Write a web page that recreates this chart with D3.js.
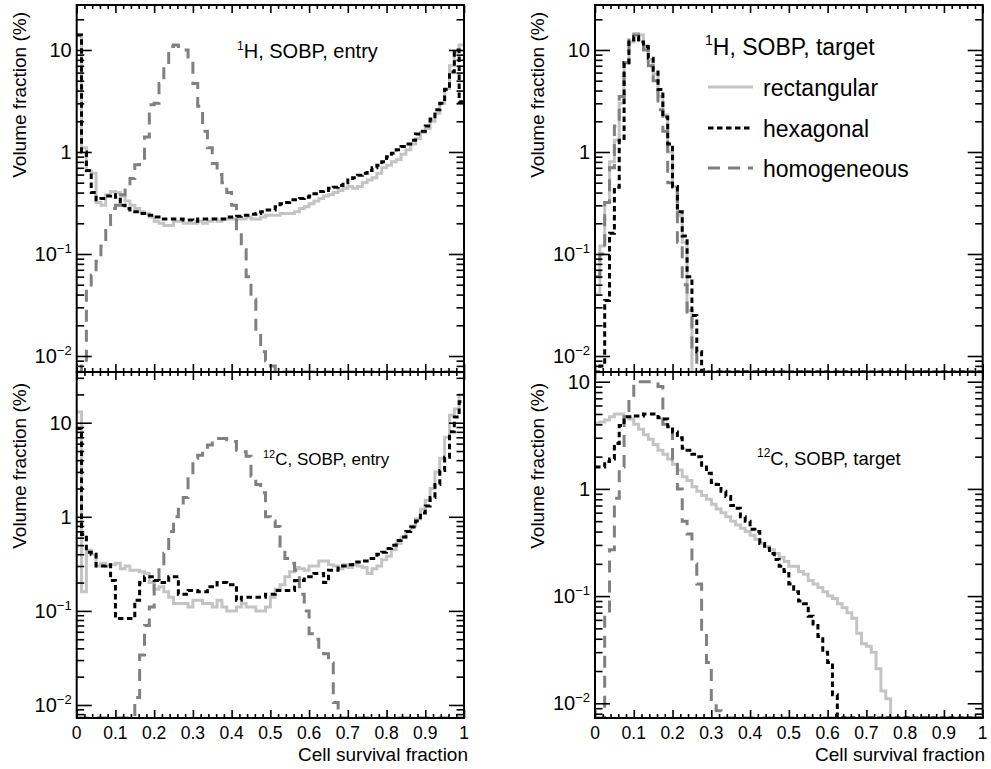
<!DOCTYPE html>
<html><head><meta charset="utf-8">
<script src="https://cdn.jsdelivr.net/npm/d3@7"></script>
<style>
body{margin:0;background:#fff}
svg{display:block}
text{font-family:"Liberation Sans",Arial,Helvetica,sans-serif;fill:#000}
</style>
</head><body>
<svg id="chart" width="991" height="769"></svg>
<script>
// ---------- DATA (80 bins of width 0.0125 over cell survival fraction 0..1) ----------
const binEdges = d3.range(81).map(i => i / 80);

const seriesNames = ["rectangular", "hexagonal", "homogeneous"];
const xTickLabels = ["0","0.1","0.2","0.3","0.4","0.5","0.6","0.7","0.8","0.9","1"];
const yMajorTicks = [0.01, 0.1, 1, 10];

// 1H, SOBP, entry
const hEntryRect = [14,1.1,0.65,0.62,0.32,0.30,0.38,0.41,0.40,0.37,0.33,0.30,0.28,0.26,0.25,0.23,0.21,0.20,0.19,0.19,
  0.21,0.21,0.20,0.20,0.20,0.21,0.20,0.21,0.22,0.21,0.22,0.22,0.22,0.22,0.22,0.23,0.22,0.22,0.23,0.24,
  0.24,0.24,0.25,0.25,0.25,0.26,0.28,0.29,0.31,0.33,0.35,0.37,0.38,0.40,0.42,0.44,0.46,0.44,0.46,0.50,
  0.53,0.56,0.62,0.70,0.74,0.80,0.84,0.95,1.05,1.2,1.35,1.55,1.7,2.0,2.4,3.0,4.2,7.0,9.5,11.2];
const hEntryHex = [14,1.0,0.66,0.40,0.34,0.35,0.37,0.38,0.36,0.30,0.28,0.26,0.26,0.25,0.24,0.24,0.23,0.22,0.22,0.22,
  0.22,0.22,0.215,0.215,0.21,0.22,0.22,0.22,0.22,0.22,0.22,0.23,0.23,0.235,0.24,0.24,0.245,0.25,0.26,0.27,
  0.27,0.29,0.31,0.32,0.34,0.34,0.35,0.36,0.37,0.39,0.41,0.42,0.44,0.45,0.47,0.50,0.53,0.56,0.59,0.62,
  0.66,0.70,0.74,0.80,0.90,0.97,1.05,1.13,1.2,1.3,1.5,1.6,1.8,2.1,2.6,3.0,4.1,6.1,10,3.1];
const hEntryHom = [0,0.008,0.045,0.062,0.085,0.12,0.17,0.28,0.30,0.38,0.46,0.55,0.75,0.82,1.4,2.9,3.0,4.7,7.0,10.8,
  11.2,10.8,10,7.7,4.7,2.8,1.6,1.1,0.77,0.6,0.5,0.4,0.3,0.16,0.11,0.06,0.036,0.017,0.011,0.009,
  0.008,0,0,0,0,0,0,0,0,0,0,0,0,0,0,0,0,0,0,0,
  0,0,0,0,0,0,0,0,0,0,0,0,0,0,0,0,0,0,0,0];

// 1H, SOBP, target
const hTargetRect = [0.04,0.12,0.32,0.8,1.3,3.0,7.5,12,14.5,14,11,8,5.8,3.5,2.3,1.0,0.46,0.24,0.13,0.028,
  0,0,0,0,0,0,0,0,0,0,0,0,0,0,0,0,0,0,0,0,
  0,0,0,0,0,0,0,0,0,0,0,0,0,0,0,0,0,0,0,0,
  0,0,0,0,0,0,0,0,0,0,0,0,0,0,0,0,0,0,0,0];
const hTargetHex = [0,0.008,0.035,0.16,0.45,1.3,7.5,12.5,13.5,12,10.8,8.3,6.1,4.1,2.2,1.2,0.46,0.26,0.15,0.06,
  0.025,0.011,0,0,0,0,0,0,0,0,0,0,0,0,0,0,0,0,0,0,
  0,0,0,0,0,0,0,0,0,0,0,0,0,0,0,0,0,0,0,0,
  0,0,0,0,0,0,0,0,0,0,0,0,0,0,0,0,0,0,0,0];
const hTargetHom = [0.06,0.1,0.32,0.7,1.8,3.5,7.5,13,14,12.5,10,7,5,2.6,1.6,0.5,0.45,0.13,0.05,0.025,
  0.011,0,0,0,0,0,0,0,0,0,0,0,0,0,0,0,0,0,0,0,
  0,0,0,0,0,0,0,0,0,0,0,0,0,0,0,0,0,0,0,0,
  0,0,0,0,0,0,0,0,0,0,0,0,0,0,0,0,0,0,0,0];

// 12C, SOBP, entry
const cEntryRect = [13,0.16,0.44,0.40,0.30,0.32,0.30,0.31,0.32,0.28,0.30,0.27,0.27,0.26,0.25,0.20,0.17,0.18,0.16,0.14,
  0.12,0.12,0.12,0.11,0.13,0.13,0.12,0.12,0.11,0.13,0.11,0.10,0.10,0.11,0.12,0.11,0.11,0.10,0.10,0.11,
  0.14,0.17,0.19,0.23,0.26,0.29,0.28,0.27,0.30,0.30,0.34,0.34,0.31,0.30,0.28,0.31,0.29,0.31,0.30,0.29,
  0.25,0.28,0.30,0.35,0.38,0.45,0.52,0.6,0.7,0.8,0.95,1.2,1.5,2.0,3.0,4.2,7,12,14,20];
const cEntryHex = [8.7,0.65,0.42,0.40,0.30,0.30,0.31,0.21,0.083,0.083,0.083,0.083,0.13,0.2,0.23,0.23,0.21,0.2,0.2,0.23,
  0.23,0.15,0.15,0.165,0.165,0.16,0.16,0.18,0.18,0.2,0.2,0.19,0.19,0.13,0.14,0.14,0.14,0.14,0.14,0.15,
  0.15,0.165,0.165,0.165,0.165,0.21,0.21,0.23,0.23,0.25,0.25,0.2,0.27,0.27,0.3,0.3,0.31,0.33,0.33,0.34,
  0.36,0.36,0.4,0.42,0.46,0.5,0.56,0.61,0.7,0.78,0.9,1.1,1.3,1.6,2.2,3.1,4.3,8,11.5,16.7];
const cEntryHom = [0,0,0,0,0,0,0,0,0,0,0,0,0.012,0.034,0.07,0.11,0.2,0.3,0.41,0.7,
  1.0,1.2,1.6,2.8,4.2,4.5,5.0,5.8,6.6,6.8,6.8,6.6,6.3,5.1,4.9,4.4,2.7,2.2,1.8,1.0,
  0.9,0.79,0.42,0.36,0.32,0.27,0.15,0.1,0.057,0.05,0.041,0.035,0.028,0.0106,0,0,0,0,0,0,
  0,0,0,0,0,0,0,0,0,0,0,0,0,0,0,0,0,0,0,0];

// 12C, SOBP, target
const cTargetRect = [4.1,4.2,4.4,4.7,5.0,5.0,4.7,4.5,4.0,3.6,3.2,2.9,2.6,2.3,2.1,1.9,1.7,1.5,1.3,1.2,
  1.05,0.95,0.87,0.8,0.72,0.65,0.6,0.55,0.5,0.46,0.43,0.4,0.37,0.34,0.31,0.29,0.27,0.25,0.23,0.21,
  0.19,0.19,0.17,0.16,0.14,0.13,0.12,0.11,0.10,0.095,0.085,0.078,0.07,0.062,0.045,0.036,0.034,0.03,0.021,0.013,
  0.011,0,0,0,0,0,0,0,0,0,0,0,0,0,0,0,0,0,0,0];
const cTargetHex = [1.6,1.6,1.8,1.9,2.65,3.9,4.7,4.7,4.8,4.8,5.0,5.0,5.0,4.6,4.5,3.8,3.4,3.0,2.4,2.3,
  2.1,2.0,1.6,1.4,1.15,1.1,0.95,0.85,0.7,0.66,0.55,0.5,0.42,0.40,0.31,0.28,0.25,0.22,0.19,0.17,
  0.13,0.11,0.09,0.085,0.065,0.055,0.042,0.03,0.024,0.012,0,0,0,0,0,0,0,0,0,0,
  0,0,0,0,0,0,0,0,0,0,0,0,0,0,0,0,0,0,0,0];
const cTargetHom = [0,0,0.067,0.27,0.82,1.6,4.7,7.2,10,10,10,10,10,9,4,4,1.9,1.0,0.5,0.38,
  0.2,0.13,0.045,0.024,0.01,0.0085,0,0,0,0,0,0,0,0,0,0,0,0,0,0,
  0,0,0,0,0,0,0,0,0,0,0,0,0,0,0,0,0,0,0,0,
  0,0,0,0,0,0,0,0,0,0,0,0,0,0,0,0,0,0,0,0];

// ---------- LAYOUT / STYLE ----------
const styles = {
  rectangular: {stroke: "#c4c4c4", dash: null},
  hexagonal:   {stroke: "#000000", dash: "5.5,3.5"},
  homogeneous: {stroke: "#808080", dash: "12,8"}
};

const panels = [
  {id:"tl", data:[hEntryRect,hEntryHex,hEntryHom], x0:76.7, x1:464, y0:5, y1:372, ymin:0.00697, ymax:27.6, xLabels:false,
   ytitleX:26, ytitleY:12, note:{sup:"1", main:"H, SOBP, entry", x:237, y:58, size:20, supSize:12}},
  {id:"tr", data:[hTargetRect,hTargetHex,hTargetHom], x0:595, x1:982.7, y0:5, y1:372, ymin:0.00697, ymax:27.6, xLabels:false,
   ytitleX:544, ytitleY:12, note:{sup:"1", main:"H, SOBP, target", x:705, y:55, size:23, supSize:14}, legend:true},
  {id:"bl", data:[cEntryRect,cEntryHex,cEntryHom], x0:76.7, x1:464, y0:372, y1:718, ymin:0.00727, ymax:34.6, xLabels:true,
   ytitleX:26, ytitleY:383, note:{sup:"12", main:"C, SOBP, entry", x:263, y:465, size:17, supSize:11}, xtitleX:468},
  {id:"br", data:[cTargetRect,cTargetHex,cTargetHom], x0:595, x1:982.7, y0:372, y1:718, ymin:0.00729, ymax:12.32, xLabels:true,
   ytitleX:544, ytitleY:383, note:{sup:"12", main:"C, SOBP, target", x:757, y:465, size:18.5, supSize:12}, xtitleX:985}
];

const svg = d3.select("#chart");

function minorLogTicks(lo, hi) {
  const out = [];
  for (let e = -3; e <= 2; e++) for (let k = 2; k <= 9; k++) {
    const v = k * Math.pow(10, e);
    if (v > lo && v < hi) out.push(v);
  }
  return out;
}

panels.forEach(p => {
  const g = svg.append("g");
  const x = d3.scaleLinear().domain([0, 1]).range([p.x0, p.x1]);
  const y = d3.scaleLog().domain([p.ymin, p.ymax]).range([p.y1, p.y0]);
  const W = p.x1 - p.x0, H = p.y1 - p.y0;

  // clip
  svg.append("clipPath").attr("id", "clip-" + p.id)
    .append("rect").attr("x", p.x0).attr("y", p.y0).attr("width", W).attr("height", H);

  // histograms
  const line = d3.line().x(d => x(d[0])).y(d => y(Math.max(p.ymin, Math.min(p.ymax, d[1]))));
  const order = [0, 2, 1];
  order.forEach(si => {
    const vals = p.data[si];
    const pts = [];
    vals.forEach((v, i) => { pts.push([binEdges[i], v]); pts.push([binEdges[i + 1], v]); });
    const st = styles[seriesNames[si]];
    g.append("path").attr("d", line(pts)).attr("fill", "none")
      .attr("stroke", st.stroke).attr("stroke-width", 3)
      .attr("stroke-dasharray", st.dash).attr("clip-path", `url(#clip-${p.id})`);
  });

  // axes ticks (inside, all four sides)
  const xMajor = d3.range(11).map(i => i / 10);
  const xMinor = d3.range(51).map(i => i / 50).filter((v, i) => i % 5 !== 0);
  const tickStyle = sel => { sel.select(".domain").remove(); sel.selectAll("line").attr("stroke", "#000").attr("stroke-width", 1.6); sel.selectAll("text").remove(); };

  g.append("g").attr("transform", `translate(0,${p.y1})`).call(d3.axisBottom(x).tickValues(xMajor).tickSize(-8).tickFormat("")).call(tickStyle);
  g.append("g").attr("transform", `translate(0,${p.y1})`).call(d3.axisBottom(x).tickValues(xMinor).tickSize(-4).tickFormat("")).call(tickStyle);
  g.append("g").attr("transform", `translate(0,${p.y0})`).call(d3.axisTop(x).tickValues(xMajor).tickSize(-8).tickFormat("")).call(tickStyle);
  g.append("g").attr("transform", `translate(0,${p.y0})`).call(d3.axisTop(x).tickValues(xMinor).tickSize(-4).tickFormat("")).call(tickStyle);

  const yMaj = yMajorTicks.filter(v => v >= p.ymin && v <= p.ymax);
  const yMin = minorLogTicks(p.ymin, p.ymax);
  g.append("g").attr("transform", `translate(${p.x0},0)`).call(d3.axisLeft(y).tickValues(yMaj).tickSize(-15).tickFormat("")).call(tickStyle);
  g.append("g").attr("transform", `translate(${p.x0},0)`).call(d3.axisLeft(y).tickValues(yMin).tickSize(-7.5).tickFormat("")).call(tickStyle);
  g.append("g").attr("transform", `translate(${p.x1},0)`).call(d3.axisRight(y).tickValues(yMaj).tickSize(-15).tickFormat("")).call(tickStyle);
  g.append("g").attr("transform", `translate(${p.x1},0)`).call(d3.axisRight(y).tickValues(yMin).tickSize(-7.5).tickFormat("")).call(tickStyle);

  // frame
  g.append("rect").attr("x", p.x0).attr("y", p.y0).attr("width", W).attr("height", H)
    .attr("fill", "none").attr("stroke", "#000").attr("stroke-width", 2);

  // y tick labels
  yMaj.forEach(v => {
    const e = Math.round(Math.log10(v));
    const t = g.append("text").attr("x", p.x0 - 5).attr("y", y(v) + 7).attr("text-anchor", "end").attr("font-size", 20);
    if (e === 0) t.text("1");
    else if (e === 1) t.text("10");
    else {
      t.append("tspan").text("10");
      t.append("tspan").attr("font-size", 13).attr("dy", -8).text("\u2212" + (-e));
    }
  });

  // x tick labels
  if (p.xLabels) {
    xMajor.forEach((v, i) => {
      g.append("text").attr("x", x(v)).attr("y", 738.5).attr("text-anchor", "middle")
        .attr("font-size", 17.5).text(xTickLabels[i]);
    });
    g.append("text").attr("x", p.xtitleX).attr("y", 761).attr("text-anchor", "end")
      .attr("font-size", 19).text("Cell survival fraction");
  }

  // y title
  g.append("text").attr("transform", `translate(${p.ytitleX},${p.ytitleY}) rotate(-90)`)
    .attr("text-anchor", "end").attr("font-size", 19).text("Volume fraction (%)");

  // annotation
  const n = p.note;
  const nt = g.append("text").attr("x", n.x).attr("y", n.y).attr("font-size", n.size);
  nt.append("tspan").attr("font-size", n.supSize).attr("dy", -(n.size * 0.42)).text(n.sup);
  nt.append("tspan").attr("dy", n.size * 0.42).text(n.main);

  // legend
  if (p.legend) {
    const rows = [87, 128, 168];
    seriesNames.forEach((name, i) => {
      const st = styles[name];
      g.append("line").attr("x1", 708).attr("x2", 753).attr("y1", rows[i]).attr("y2", rows[i])
        .attr("stroke", st.stroke).attr("stroke-width", 3).attr("stroke-dasharray", st.dash);
      g.append("text").attr("x", 763).attr("y", rows[i] + 9).attr("font-size", 23).text(name);
    });
  }
});
</script>
</body></html>
